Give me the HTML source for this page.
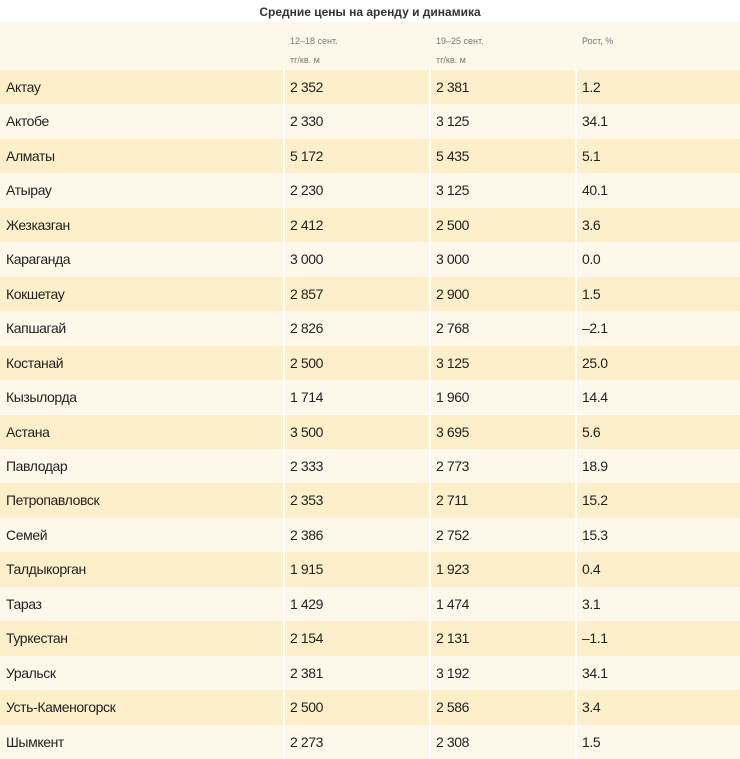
<!DOCTYPE html>
<html><head><meta charset="utf-8">
<style>
body{margin:0;width:740px;height:759px;background:#fff;font-family:"Liberation Sans",sans-serif;overflow:hidden;position:relative}
#title{position:absolute;top:5px;left:0;width:740px;text-align:center;font-weight:bold;font-size:12px;color:#333}
#hdr{position:absolute;top:22px;left:0;width:740px;height:48px;background:#fdf8ea}
.h{position:absolute;top:10px;font-size:9px;color:#777;line-height:19px}
.row{position:absolute;left:0;width:740px;height:34.45px;font-size:14px;color:#222}
.row span{position:absolute;top:9px;letter-spacing:-0.4px}
.sep{position:absolute;top:70px;width:1.5px;height:689px;background:#fff}
</style></head><body>
<div id="title">Средние цены на аренду и динамика</div>
<div id="hdr">
<div class="h" style="left:290px">12–18 сент.<br>тг/кв. м</div>
<div class="h" style="left:436px">19–25 сент.<br>тг/кв. м</div>
<div class="h" style="left:582px">Рост, %</div>
</div>
<div id="rows"></div>
<div class="sep" style="left:283px"></div>
<div class="sep" style="left:429px"></div>
<div class="sep" style="left:575px"></div>
<script>
const cities=["Актау","Актобе","Алматы","Атырау","Жезказган","Караганда","Кокшетау","Капшагай","Костанай","Кызылорда","Астана","Павлодар","Петропавловск","Семей","Талдыкорган","Тараз","Туркестан","Уральск","Усть-Каменогорск","Шымкент"];
const week1=["2 352","2 330","5 172","2 230","2 412","3 000","2 857","2 826","2 500","1 714","3 500","2 333","2 353","2 386","1 915","1 429","2 154","2 381","2 500","2 273"];
const week2=["2 381","3 125","5 435","3 125","2 500","3 000","2 900","2 768","3 125","1 960","3 695","2 773","2 711","2 752","1 923","1 474","2 131","3 192","2 586","2 308"];
const growth=["1.2","34.1","5.1","40.1","3.6","0.0","1.5","–2.1","25.0","14.4","5.6","18.9","15.2","15.3","0.4","3.1","–1.1","34.1","3.4","1.5"];
const c=document.getElementById('rows');
cities.forEach((n,i)=>{
 const r=document.createElement('div');
 r.className='row';
 
 
 r.style.top=(70+i*34.45)+'px';
 r.style.background=i%2?'#fdf8ea':'#fcefca';
 const vals=[n,week1[i],week2[i],growth[i]],xs=[6,290,436,582];
 vals.forEach((v,j)=>{
  const s=document.createElement('span');
  
  
  s.style.left=xs[j]+'px';s.textContent=v;r.appendChild(s);
 });
 c.appendChild(r);
});
</script>
</body></html>
